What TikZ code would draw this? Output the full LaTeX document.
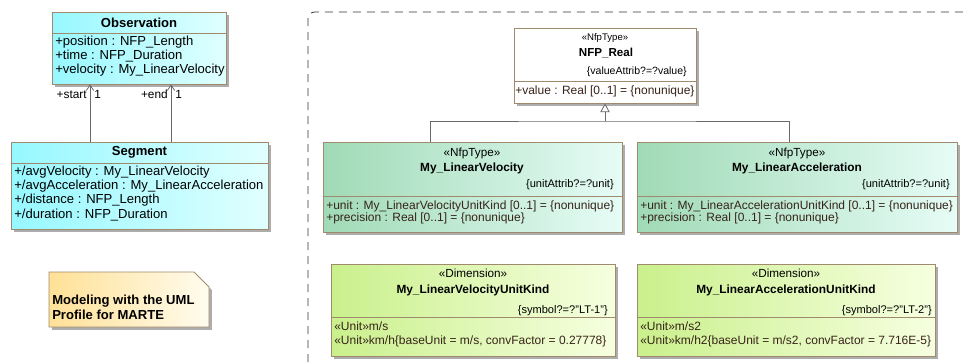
\documentclass[tikz,border=0pt]{standalone}
\usepackage{fontspec}
\setmainfont{Liberation Sans}
\usetikzlibrary{arrows.meta,shadows,fit}

\definecolor{umlline}{RGB}{160,138,110}
\definecolor{cyanL}{RGB}{150,248,255}
\definecolor{cyanR}{RGB}{224,255,255}
\definecolor{nfpL}{RGB}{160,218,182}
\definecolor{nfpR}{RGB}{230,252,246}
\definecolor{dimL}{RGB}{202,240,140}
\definecolor{dimR}{RGB}{246,255,224}
\definecolor{noteL}{RGB}{255,224,150}
\definecolor{noteR}{RGB}{255,252,238}
\definecolor{linkgray}{RGB}{105,105,105}
\definecolor{attrtxt}{RGB}{55,35,25}

\tikzset{
  umlbox/.style={draw=umlline, line width=0.6pt, inner sep=0pt,
    drop shadow={shadow xshift=2.2pt, shadow yshift=-2.2pt, fill=black!32, opacity=1}},
  obsbox/.style={umlbox, left color=cyanL, right color=cyanR},
  nfpbox/.style={umlbox, left color=nfpL, right color=nfpR},
  dimbox/.style={umlbox, left color=dimL, right color=dimR},
  realbox/.style={umlbox, fill=white},
  sepline/.style={draw=umlline, line width=0.6pt},
  ltitle/.style={inner sep=0pt, font=\fontsize{9.8}{11}\selectfont\bfseries},
  lattr/.style={inner sep=0pt, anchor=mid west, font=\fontsize{9.8}{11}\selectfont},
  stereo/.style={inner sep=0pt, anchor=mid, font=\fontsize{8.8}{10}\selectfont},
  clsname/.style={inner sep=0pt, anchor=mid, font=\fontsize{8.9}{10}\selectfont\bfseries},
  tagtxt/.style={inner sep=0pt, anchor=mid east, font=\fontsize{8.3}{10}\selectfont},
  rattr/.style={inner sep=0pt, anchor=mid west, text=attrtxt, font=\fontsize{9}{10}\selectfont},
  rolelbl/.style={inner sep=0pt, font=\fontsize{8.9}{10}\selectfont},
  assoc/.style={draw=linkgray, line width=0.6pt, -{Straight Barb[length=4pt,width=5.5pt]}},
  genline/.style={draw=linkgray, line width=0.6pt},
  frameline/.style={draw=black!80, line width=0.6pt, dash pattern=on 6pt off 4.5pt, rounded corners=5pt},
  notebox/.style={draw=umlline, line width=0.6pt, left color=noteL, right color=noteR,
    drop shadow={shadow xshift=2.2pt, shadow yshift=-2.2pt, fill=black!32, opacity=1}},
  notetxt/.style={inner sep=0pt, anchor=west, align=left, font=\fontsize{9.8}{11.2}\selectfont\bfseries}
}

\begin{document}
\begin{tikzpicture}[x=0.75pt, y=-0.75pt]
\useasboundingbox (0,0) rectangle (963,362);

% package frame
\draw[frameline] (308,362) -- (308,12) -- (963,12);

% Observation
\node[obsbox, fit={(52,12) (226,84)}] (obs) {};
\draw[sepline] (obs.west |- 0,33) -- (obs.east |- 0,33);
\node[ltitle] (obs-name) at (139,22.5) {Observation};
\foreach \a [count=\i] in {+position : NFP\_Length, +time : NFP\_Duration, +velocity : My\_LinearVelocity}
  \node[lattr] (obs-a\i) at (55,28+14*\i) {\a};

% Segment
\node[obsbox, fit={(11,142) (268,229)}] (seg) {};
\draw[sepline] (seg.west |- 0,163) -- (seg.east |- 0,163);
\node[ltitle] (seg-name) at (139.5,152.5) {Segment};
\foreach \a [count=\i] in {+/avgVelocity : My\_LinearVelocity, +/avgAcceleration : My\_LinearAcceleration, +/distance : NFP\_Length, +/duration : NFP\_Duration}
  \node[lattr] (seg-a\i) at (14,157.5+14.3*\i) {\a};

% associations
\draw[assoc] (seg.north -| 90,0) -- (obs.south -| 90,0);
\draw[assoc] (seg.north -| 171,0) -- (obs.south -| 171,0);
\node[rolelbl, anchor=mid east] (start-role) at (87,95) {+start};
\node[rolelbl, anchor=mid west] (start-mult) at (94,95) {1};
\node[rolelbl, anchor=mid east] (end-role) at (168,95) {+end};
\node[rolelbl, anchor=mid west] (end-mult) at (175,95) {1};

% note
\path[notebox] (49,272) -- (194,272) -- (209,287) -- (209,327) -- (49,327) -- cycle;
\node[notetxt] (note-txt) at (52,307.5) {Modeling with the UML\\Profile for MARTE};

% NFP_Real
\node[realbox, fit={(514,28) (696,103)}] (real) {};
\draw[sepline] (real.west |- 0,81) -- (real.east |- 0,81);
\node[stereo, font=\fontsize{7.2}{8}\selectfont] (real-st) at (605,37) {«NfpType»};
\node[clsname, font=\fontsize{8.7}{10}\selectfont\bfseries] (real-name) at (606,53) {NFP\_Real};
\node[tagtxt, font=\fontsize{7.9}{9}\selectfont] (real-tag) at (687,70.5) {\{valueAttrib?=?value\}};
\node[rattr] (real-a1) at (515,90.5) {+value : Real [0..1] = \{nonunique\}};

% My_LinearVelocity
\node[nfpbox, fit={(323,142) (622,232)}] (vel) {};
\draw[sepline] (vel.west |- 0,196) -- (vel.east |- 0,196);
\node[stereo] (vel-st) at (472,152.5) {«NfpType»};
\node[clsname] (vel-name) at (472,167.5) {My\_LinearVelocity};
\node[tagtxt] (vel-tag) at (614,183.5) {\{unitAttrib?=?unit\}};
\node[rattr] (vel-a1) at (326,205.5) {+unit : My\_LinearVelocityUnitKind [0..1] = \{nonunique\}};
\node[rattr] (vel-a2) at (326,218) {+precision : Real [0..1] = \{nonunique\}};

% My_LinearAcceleration
\node[nfpbox, fit={(637,142) (957,232)}] (acc) {};
\draw[sepline] (acc.west |- 0,196) -- (acc.east |- 0,196);
\node[stereo] (acc-st) at (797,152.5) {«NfpType»};
\node[clsname] (acc-name) at (797,167.5) {My\_LinearAcceleration};
\node[tagtxt] (acc-tag) at (950,183.5) {\{unitAttrib?=?unit\}};
\node[rattr] (acc-a1) at (640,205.5) {+unit : My\_LinearAccelerationUnitKind [0..1] = \{nonunique\}};
\node[rattr] (acc-a2) at (640,218) {+precision : Real [0..1] = \{nonunique\}};

% generalization
\coordinate (genjoint) at (real.south |- 0,121);
\draw[genline] (vel.north -| 430,0) |- (genjoint) -| (acc.north -| 789,0);
\draw[genline, -{Triangle[open, fill=white, length=6.5pt, width=7pt]}] (genjoint) -- (real.south);

% My_LinearVelocityUnitKind
\node[dimbox, fit={(331,264) (615,356)}] (vdim) {};
\draw[sepline] (vdim.west |- 0,317) -- (vdim.east |- 0,317);
\node[stereo] (vdim-st) at (473,273.5) {«Dimension»};
\node[clsname] (vdim-name) at (473,289.5) {My\_LinearVelocityUnitKind};
\node[tagtxt] (vdim-tag) at (608,309.5) {\{symbol?=?"LT-1"\}};
\node[rattr] (vdim-u1) at (334,326.5) {«Unit»m/s};
\node[rattr] (vdim-u2) at (334,340.5) {«Unit»km/h\{baseUnit = m/s, convFactor = 0.27778\}};

% My_LinearAccelerationUnitKind
\node[dimbox, fit={(637,264) (935,356)}] (adim) {};
\draw[sepline] (adim.west |- 0,317) -- (adim.east |- 0,317);
\node[stereo] (adim-st) at (786,273.5) {«Dimension»};
\node[clsname] (adim-name) at (786,289.5) {My\_LinearAccelerationUnitKind};
\node[tagtxt] (adim-tag) at (932,309.5) {\{symbol?=?"LT-2"\}};
\node[rattr] (adim-u1) at (640,326.5) {«Unit»m/s2};
\node[rattr] (adim-u2) at (640,340.5) {«Unit»km/h2\{baseUnit = m/s2, convFactor = 7.716E-5\}};
\end{tikzpicture}
\end{document}
